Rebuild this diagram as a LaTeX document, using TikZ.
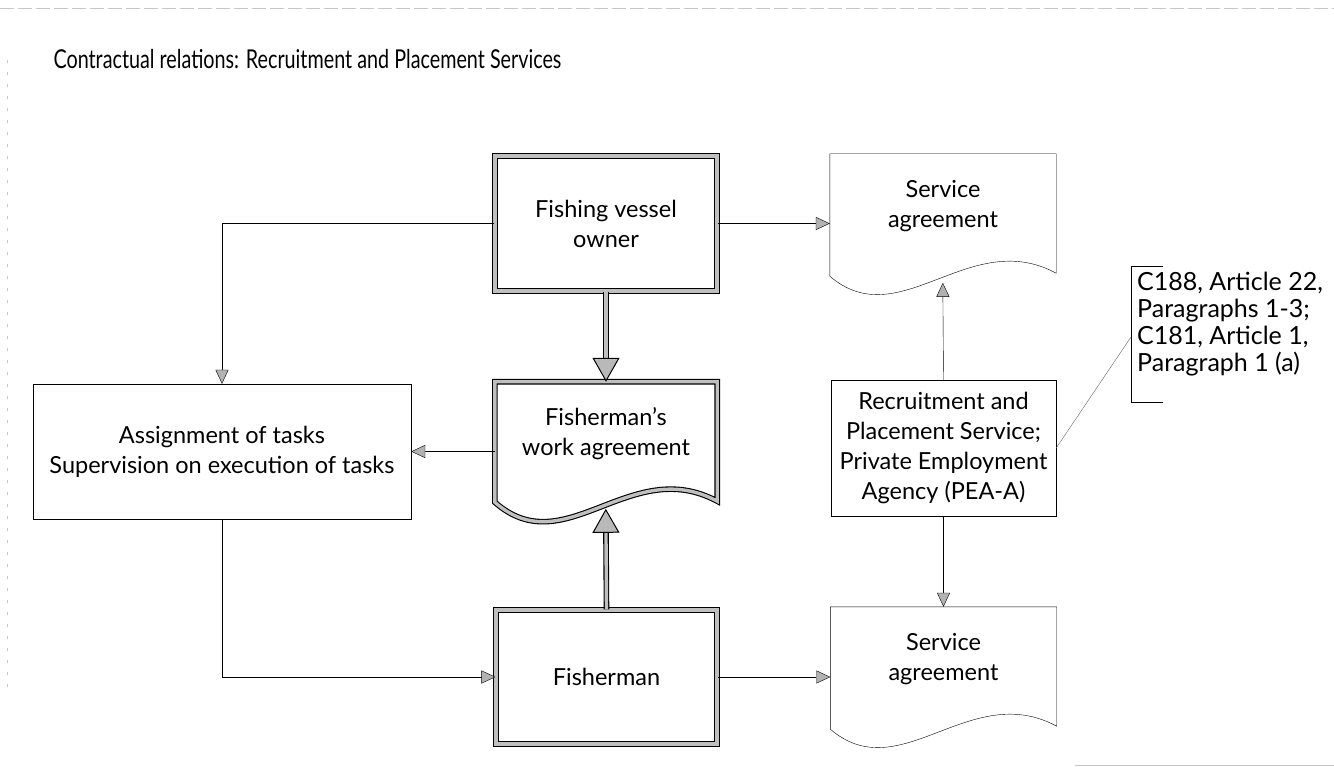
\documentclass[tikz,border=0pt]{standalone}
\usepackage{fontspec}
\setmainfont{Lato}
\newfontfamily\titlefont{Lato}[FakeStretch=0.76]
\usetikzlibrary{arrows.meta,calc,positioning}

\begin{document}
\begin{tikzpicture}[x=1pt,y=-1pt,thin,
                    font=\fontsize{23.5}{30}\selectfont,
                    >={Triangle[length=14pt,width=13pt,fill=gray!60]}]
  \tikzstyle{thinbox}=[draw,rectangle,align=center,inner sep=0pt]
  \tikzstyle{thickbox}=[draw,rectangle,align=center,inner sep=0pt,
                        line width=1.1pt,double=gray!50,double distance=3.4pt]
  \tikzstyle{docbox}=[rectangle,align=center,inner sep=0pt,
                      minimum height=104]
  \tikzstyle{link}=[->]
  \tikzstyle{thicklink}=[-{Triangle[length=24pt,width=27pt,fill=gray!55,line width=1pt]},
                         line width=1.1pt,double=gray!50,double distance=3.4pt]

  \fill[white] (0,0) rectangle (1334,767);
  \useasboundingbox (0,0) rectangle (1334,767);

  % page edges of the scan
  \draw[gray!45,dash pattern=on 14pt off 4pt] (0,8) -- (1334,8);
  \draw[gray!45,dash pattern=on 3pt off 9pt] (7,60) -- (7,690);
  \draw[gray!45] (1075,765) -- (1334,765);

  \node[anchor=base west,font=\titlefont\fontsize{26}{30}\selectfont]
       (title) at (50,69) {Contractual relations: Recruitment and Placement Services};

  \node[thickbox,minimum width=222,minimum height=135] (owner) at (606,223.5)
       {Fishing vessel\\owner};
  \node[docbox,minimum width=222]                     (work)  at (606,434)
       {Fisherman’s\\work agreement};
  \node[thickbox,minimum width=221,minimum height=134] (fisher) at (606.5,677)
       {Fisherman};
  \node[thinbox,minimum width=378,minimum height=135] (tasks) at (222,451.5)
       {Assignment of tasks\\Supervision on execution of tasks};
  \node[docbox,minimum width=226]                     (sa top) at (943,206)
       {Service\\agreement};
  \node[thinbox,minimum width=225,minimum height=136] (rps)   at (943.5,448)
       {Recruitment and\\Placement Service;\\Private Employment\\Agency (PEA-A)};
  \node[docbox,minimum width=226]                     (sa bottom) at (943.5,659)
       {Service\\agreement};
  \node[anchor=west,align=left,inner xsep=6pt,inner ysep=0pt,
        font=\fontsize{25}{27}\selectfont]            (ref)   at (1131,324)
       {C188, Article 22,\\Paragraphs 1-3;\\C181, Article 1,\\Paragraph 1 (a)};

  % wavy lower edges of the documents
  \draw[line width=1.1pt,double=gray!50,double distance=3.4pt]
    (work.north west) -- (work.north east) -- ($(work.south east)+(0,15)$)
    .. controls ($(work.south east)+(-87,-32)$) and ($(work.south west)+(70,78)$)
    .. ($(work.south west)+(0,16)$) -- cycle;
  \foreach \d in {sa top,sa bottom}
    \draw (\d.north west) -- (\d.north east) -- ($(\d.south east)+(0,15)$)
      .. controls ($(\d.south east)+(-87,-32)$) and ($(\d.south west)+(70,78)$)
      .. ($(\d.south west)+(0,18)$) -- cycle;

  % bracket of the reference note
  \draw ($(ref.west)+(32,-58)$) -- ($(ref.west)+(0,-58)$)
     -- ($(ref.west)+(0,78)$) -- ($(ref.west)+(32,78)$);
  \coordinate (ref hook) at ($(ref.west)+(0,13)$);
  \coordinate (work wave) at ($(work.north west)+(111,127)$);
  \coordinate (sa wave)   at ($(sa top.north west)+(113,129)$);

  \draw[thicklink] (owner.south) -- (work.north);
  \draw[thicklink] (fisher.north) -- (work wave);
  \draw[link] (owner.east) -- (owner.east -| sa top.west);
  \draw[link] (fisher.east) -- (fisher.east -| sa bottom.west);
  \draw[link] (work.west |- tasks.east) -- (tasks.east);
  \draw[link] (owner.west) -| (tasks.north);
  \draw[link] (tasks.south) |- (fisher.west);
  \draw[link] (rps.north) -- (sa wave);
  \draw[link] (rps.south) -- (sa bottom.north);
  \draw[gray!80!black] (rps.east) -- (ref hook);
\end{tikzpicture}
\end{document}
